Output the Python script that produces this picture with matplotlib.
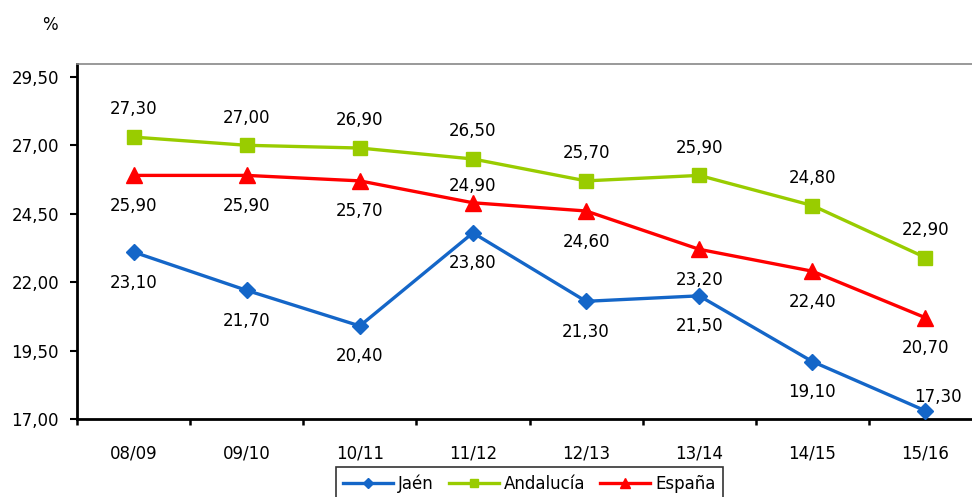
import numpy as np
import matplotlib
matplotlib.use("Agg")
import matplotlib.pyplot as plt
from matplotlib.ticker import FixedLocator, FuncFormatter

# Datos
campanas = ['08/09', '09/10', '10/11', '11/12', '12/13', '13/14', '14/15', '15/16']
jaen = [23.10, 21.70, 20.40, 23.80, 21.30, 21.50, 19.10, 17.30]
andalucia = [27.30, 27.00, 26.90, 26.50, 25.70, 25.90, 24.80, 22.90]
espana = [25.90, 25.90, 25.70, 24.90, 24.60, 23.20, 22.40, 20.70]

def coma(v):
    return f"{v:.2f}".replace('.', ',')

fig = plt.figure(figsize=(9.72, 4.97), dpi=100)
ax = fig.add_axes([77/972, 1 - 419/497, 905/972, 355/497])

x = np.arange(len(campanas))
ax.plot(x, jaen, color='#1466C8', lw=2.4, marker='D', ms=8, label='Jaén', zorder=3)
ax.plot(x, andalucia, color='#99CC00', lw=2.4, marker='s', ms=10, label='Andalucía', zorder=3)
ax.plot(x, espana, color='#FF0000', lw=2.4, marker='^', ms=11, label='España', zorder=3)

# etiquetas de datos
for i, v in enumerate(andalucia):
    ax.annotate(coma(v), (i, v), xytext=(0, 20), textcoords='offset points',
                ha='center', va='center', fontsize=12)
for i, v in enumerate(espana):
    dy = 12 if i == 3 else -22
    ax.annotate(coma(v), (i, v), xytext=(0, dy), textcoords='offset points',
                ha='center', va='center', fontsize=12)
for i, v in enumerate(jaen):
    if i == len(jaen) - 1:
        off = (9, 10)
    else:
        off = (0, -22)
    ax.annotate(coma(v), (i, v), xytext=off, textcoords='offset points',
                ha='center', va='center', fontsize=12)

ax.set_xlim(-0.5, len(campanas) - 0.5)
ax.set_ylim(17, 29.97)
ax.set_yticks([17, 19.5, 22, 24.5, 27, 29.5])
ax.yaxis.set_major_formatter(FuncFormatter(lambda v, p: coma(v)))
ax.set_xticks(x)
ax.set_xticklabels(campanas)
ax.xaxis.set_minor_locator(FixedLocator(np.arange(-0.5, len(campanas), 1)))
ax.tick_params(axis='x', which='major', length=0, pad=18, labelsize=12)
ax.tick_params(axis='x', which='minor', length=4, width=1.8, direction='out')
ax.tick_params(axis='y', length=5, width=1.5, pad=8, labelsize=12)

for s in ['left', 'bottom']:
    ax.spines[s].set_linewidth(2)
    ax.spines[s].set_color('black')
ax.spines['top'].set_color('#888888')
ax.spines['top'].set_linewidth(1.2)
ax.spines['right'].set_visible(False)

fig.text(50/972, 1 - 25/497, '%', ha='center', va='center', fontsize=12)

leg = ax.legend(loc='upper center', bbox_to_anchor=(0.5, -0.135), ncol=3,
                frameon=True, fancybox=False, fontsize=12, handlelength=3.0,
                columnspacing=0.9, handletextpad=0.3, borderpad=0.45,
                borderaxespad=0, markerscale=0.6)
leg.get_frame().set_edgecolor('black')
leg.get_frame().set_linewidth(1.2)

fig.savefig('out.png', dpi=100)
